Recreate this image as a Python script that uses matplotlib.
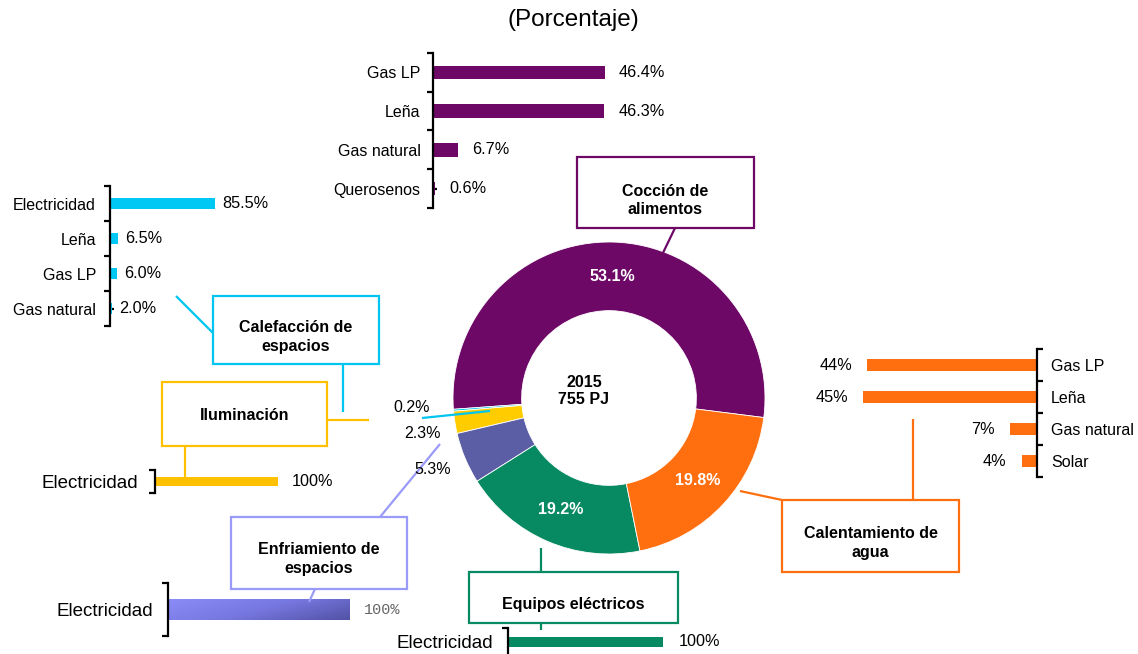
from __future__ import annotations

import matplotlib

matplotlib.use("Agg")

import matplotlib.pyplot as plt
import numpy as np
from matplotlib.colors import LinearSegmentedColormap
from matplotlib.patches import Rectangle

W, H = 1138, 654

plt.rcParams["font.family"] = ["Liberation Sans", "DejaVu Sans"]

# ---- data ----
end_uses = [
    "Cocción de alimentos",
    "Calefacción de espacios",
    "Iluminación",
    "Enfriamiento de espacios",
    "Equipos eléctricos",
    "Calentamiento de agua",
]
end_use_share = [53.1, 0.2, 2.3, 5.3, 19.2, 19.8]
end_use_colors = ["#6E0867", "#00C5F0", "#FFCC00", "#5B5DA5", "#078961", "#FF6F0F"]

coccion_fuels = ["Gas LP", "Leña", "Gas natural", "Querosenos"]
coccion_share = [46.4, 46.3, 6.7, 0.6]

calefaccion_fuels = ["Electricidad", "Leña", "Gas LP", "Gas natural"]
calefaccion_share = [85.5, 6.5, 6.0, 2.0]

agua_fuels = ["Gas LP", "Leña", "Gas natural", "Solar"]
agua_share = [44, 45, 7, 4]

iluminacion_fuels = ["Electricidad"]
iluminacion_share = [100]

enfriamiento_fuels = ["Electricidad"]
enfriamiento_share = [100]

equipos_fuels = ["Electricidad"]
equipos_share = [100]

fig = plt.figure(figsize=(W / 100, H / 100), dpi=100)


def px_axes(x0, y0, x1, y1):
    return fig.add_axes([x0 / W, 1 - y1 / H, (x1 - x0) / W, (y1 - y0) / H])


def bar_panel(box, labels, values, color, xmax, bar_h, side="left", fmt="{:.1f}%",
              label_size=11.5, value_size=11.7, label_pad=10, value_gap=10,
              value_kw=None):
    ax = px_axes(*box)
    ypos = np.arange(len(labels))
    bars = ax.barh(ypos, values, height=bar_h, color=color, zorder=2)
    ax.set_ylim(len(labels) - 0.5, -0.5)
    if side == "left":
        ax.set_xlim(0, xmax)
    else:
        ax.set_xlim(xmax, 0)
    for s in ["top", "bottom", "left", "right"]:
        ax.spines[s].set_visible(False)
    ax.spines[side].set_visible(True)
    ax.spines[side].set_linewidth(1.6)
    ax.spines[side].set_zorder(3)
    ax.set_xticks([])
    ax.set_yticks(np.arange(len(labels) + 1) - 0.5)
    ax.set_yticklabels([])
    ax.set_yticks(ypos, minor=True)
    ax.set_yticklabels(labels, minor=True, fontsize=label_size)
    ax.tick_params(axis="y", which="major", length=4, width=1.6, direction="out")
    ax.tick_params(axis="y", which="minor", length=3, width=1.6, direction="in",
                   pad=label_pad)
    if side == "right":
        ax.tick_params(axis="y", which="both", left=False, labelleft=False,
                       right=True, labelright=True)
    ax.patch.set_visible(False)
    kw = dict(fontsize=value_size, va="center")
    if value_kw:
        kw.update(value_kw)
    for i, v in enumerate(values):
        if side == "left":
            ax.annotate(fmt.format(v), (v, i), xytext=(value_gap, 0),
                        textcoords="offset points", ha="left", **kw)
        else:
            ax.annotate(fmt.format(v), (v, i), xytext=(-value_gap, 0),
                        textcoords="offset points", ha="right", **kw)
    return ax, bars


# ---- donut ----
cx, cy, R = 609, 398, 156
dax = px_axes(cx - R, cy - R, cx + R, cy + R)
wedges, _ = dax.pie(end_use_share, colors=end_use_colors, startangle=-7.2,
                    counterclock=True,
                    wedgeprops=dict(width=0.44, edgecolor="white", linewidth=0.6))
dax.set_xlim(-1, 1)
dax.set_ylim(-1, 1)
for w, share in zip(wedges, end_use_share):
    if share < 10:
        continue
    mid = np.deg2rad((w.theta1 + w.theta2) / 2)
    dax.text(0.78 * np.cos(mid), 0.78 * np.sin(mid), f"{share:.1f}%",
             color="white", fontsize=11.5, fontweight="bold", ha="center",
             va="center")

# ---- sub bar charts ----
bar_panel((433, 53, 618, 208), coccion_fuels, coccion_share, "#6E0867", 50, 0.35,
          label_pad=9, value_gap=10)
bar_panel((110, 186, 233, 326), calefaccion_fuels, calefaccion_share, "#00C8F5", 100,
          0.34, label_pad=10, value_gap=5)
bar_panel((844, 349, 1037, 477), agua_fuels, agua_share, "#FF6F0F", 50, 0.375,
          side="right", fmt="{:.0f}%", label_pad=10, value_gap=11)
bar_panel((155, 470, 278, 493), iluminacion_fuels, iluminacion_share, "#FFC000", 100,
          0.39, fmt="{:.0f}%", label_size=13.5, label_pad=12, value_gap=10)
eax, ebars = bar_panel((168, 583, 350, 636), enfriamiento_fuels, enfriamiento_share,
                       "#8080E8", 100, 0.38, fmt="{:.0f}%", label_size=13.5,
                       label_pad=11, value_gap=10,
                       value_kw=dict(family="Liberation Mono", color="#666666",
                                     fontsize=11))
bar_panel((508, 628, 663, 656), equipos_fuels, equipos_share, "#078961", 100, 0.36,
          fmt="{:.0f}%", label_size=13.5, label_pad=11, value_gap=11)

# gradient fill for the cooling bar
grad_cmap = LinearSegmentedColormap.from_list("lav", ["#8C8CF8", "#7777E0", "#5252A6"])
gx, gy = np.meshgrid(np.linspace(0, 1, 200), np.linspace(0, 1, 20))
grad = 0.7 * gx + 0.3 * (1 - gy)
for b in ebars:
    x0, y0 = b.get_x(), b.get_y()
    im = eax.imshow(grad, cmap=grad_cmap, aspect="auto", origin="lower",
                    extent=(x0, x0 + b.get_width(), y0 + b.get_height(), y0),
                    zorder=2)
    im.set_clip_path(b)
    b.set_facecolor("none")
eax.set_xlim(0, 100)
eax.set_ylim(0.5, -0.5)

# ---- overlay: title, callouts, connectors ----
ov = fig.add_axes([0, 0, 1, 1])
ov.set_xlim(0, W)
ov.set_ylim(H, 0)
ov.axis("off")

ov.text(573, 20, "(Porcentaje)", fontsize=17.5, ha="center", va="center")
ov.text(584, 391, "2015\n755 PJ", fontsize=11.5, fontweight="bold", ha="center",
        va="center", linespacing=1.15)

callouts = [
    # (text, box x0, y0, x1, y1, text y, edge color)
    ("Cocción de\nalimentos", 577, 157, 754, 228, 200, "#6E0867"),
    ("Calefacción de\nespacios", 213, 296, 379, 364, 337, "#00C5F0"),
    ("Iluminación", 162, 382, 327, 446, 416, "#FFC000"),
    ("Enfriamiento de\nespacios", 231, 517, 407, 589, 559, "#9A9AF8"),
    ("Calentamiento de\nagua", 782, 500, 959, 572, 543, "#FF6F0F"),
    ("Equipos eléctricos", 469, 572, 678, 623, 605, "#078961"),
]
for text, x0, y0, x1, y1, ty, col in callouts:
    ov.add_patch(Rectangle((x0, y0), x1 - x0, y1 - y0, facecolor="white",
                           edgecolor=col, linewidth=1.6))
    ov.text((x0 + x1) / 2, ty, text, fontsize=11.5, fontweight="bold", ha="center",
            va="center", linespacing=1.25)

connectors = [
    ((675, 228), (661, 257), "#6E0867"),
    ((176, 296), (213, 333), "#00C5F0"),
    ((343, 364), (343, 412), "#00C5F0"),
    ((422, 418), (490, 411), "#00C5F0"),
    ((327, 420), (369, 420), "#FFC000"),
    ((185, 446), (185, 480), "#FFC000"),
    ((440, 444), (380, 517), "#9A9AF8"),
    ((315, 589), (309, 602), "#9A9AF8"),
    ((740, 491), (782, 500), "#FF6F0F"),
    ((913, 500), (913, 419), "#FF6F0F"),
    ((541, 548), (541, 572), "#078961"),
    ((541, 623), (541, 630), "#078961"),
]
for (xa, ya), (xb, yb), col in connectors:
    ov.plot([xa, xb], [ya, yb], color=col, linewidth=1.6, solid_capstyle="butt")

small_labels = [("0.2%", 412, 407), ("2.3%", 423, 434), ("5.3%", 433, 470)]
for txt, x, y in small_labels:
    ov.text(x, y, txt, fontsize=11.5, ha="center", va="center")

fig.savefig("out.png", dpi=100)
plt.close(fig)
